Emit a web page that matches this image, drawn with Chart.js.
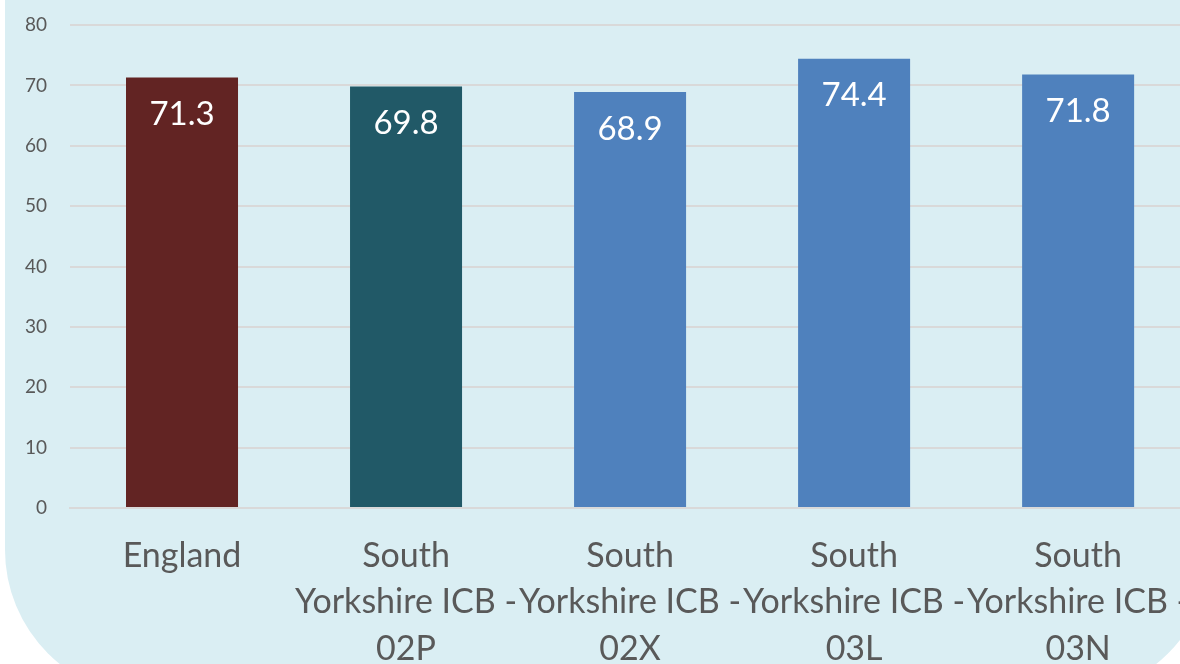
<!DOCTYPE html>
<html>
<head>
<meta charset="utf-8">
<script src="https://cdn.jsdelivr.net/npm/chart.js@4/dist/chart.umd.min.js"></script>
<style>
    body { margin: 0; background: #ffffff; overflow: hidden; width: 1180px; height: 664px; position: relative; }
    #panel { position: absolute; left: 5px; top: -200px; width: 1206px; height: 896px; background: #DAEEF3; border-radius: 146px; }
    #chart { position: absolute; left: 0; top: 0; }
</style>
</head>
<body>
<div id="panel"></div>
<canvas id="chart" width="1215" height="664"></canvas>
<script>
const categories = [
    ['England'],
    ['South', 'Yorkshire ICB -', '02P'],
    ['South', 'Yorkshire ICB -', '02X'],
    ['South', 'Yorkshire ICB -', '03L'],
    ['South', 'Yorkshire ICB -', '03N']
];
const values = [71.3, 69.8, 68.9, 74.4, 71.8];
const barColors = ['#622423', '#215967', '#4F81BD', '#4F81BD', '#4F81BD'];
const yTicks = { min: 0, max: 80, step: 10 };

// white value labels inside the top of each bar
const valueLabels = {
    id: 'valueLabels',
    afterDatasetsDraw(chart) {
        const ctx = chart.ctx;
        const meta = chart.getDatasetMeta(0);
        ctx.save();
        ctx.fillStyle = '#ffffff';
        ctx.font = '33px Lato';
        ctx.textAlign = 'center';
        ctx.textBaseline = 'middle';
        meta.data.forEach((bar, i) => {
            ctx.fillText(values[i].toFixed(1), bar.x, bar.y + 37);
        });
        ctx.restore();
    }
};

new Chart(document.getElementById('chart').getContext('2d'), {
    type: 'bar',
    data: {
        labels: categories,
        datasets: [{
            data: values,
            backgroundColor: barColors,
            borderWidth: 0,
            categoryPercentage: 1,
            barPercentage: 0.5
        }]
    },
    options: {
        responsive: false,
        animation: false,
        layout: { padding: { top: 25, right: 8, left: 0, bottom: 0 } },
        plugins: {
            legend: { display: false },
            tooltip: { enabled: false }
        },
        scales: {
            x: {
                grid: { display: false, drawTicks: false },
                border: { display: true, color: '#D9D9D9', width: 2 },
                ticks: {
                    color: '#595959',
                    font: { family: 'Lato', size: 34, lineHeight: 1.36 },
                    padding: 25,
                    autoSkip: false,
                    maxRotation: 0,
                    minRotation: 0
                },
                afterFit(scale) { scale.height = 156; }
            },
            y: {
                min: yTicks.min,
                max: yTicks.max,
                grid: { color: '#D9D9D9', lineWidth: 2, drawTicks: false },
                border: { display: false },
                ticks: {
                    stepSize: yTicks.step,
                    color: '#595959',
                    font: { family: 'Lato', size: 19 },
                    padding: 23
                },
                afterFit(scale) {
                    scale.width = 70;
                    // tick padding would otherwise push the plot top down
                    scale.paddingTop = 0;
                    scale.paddingBottom = 0;
                }
            }
        }
    },
    plugins: [valueLabels]
});
</script>
</body>
</html>
